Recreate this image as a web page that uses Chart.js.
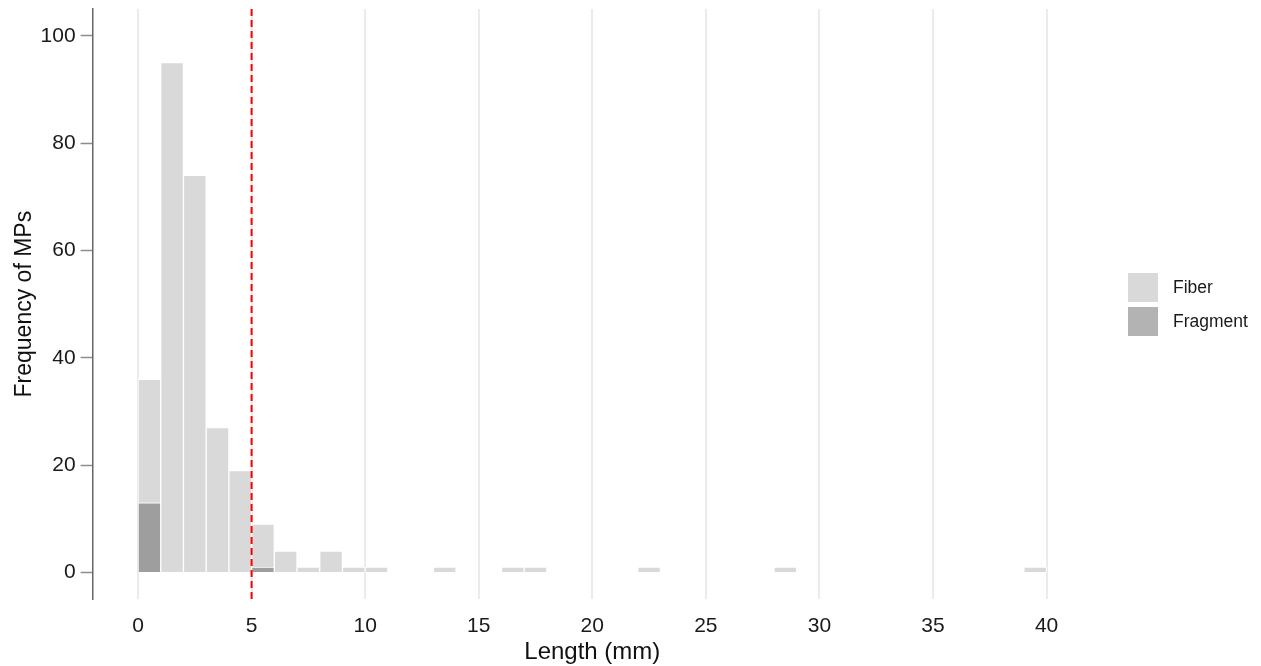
<!DOCTYPE html>
<html>
<head>
<meta charset="utf-8">
<title>Length distribution of MPs</title>
<script src="https://cdn.jsdelivr.net/npm/chart.js@4.4.1/dist/chart.umd.min.js"></script>
<style>
  body { margin: 0; background: #fff; font-family: "Liberation Sans", Arial, sans-serif; }
  .wrap { position: relative; width: 1261px; height: 666px; }
  .legend { position: absolute; left: 1128px; top: 273px; }
  .legend-item { display: flex; align-items: center; height: 29px; margin-bottom: 5px; font-size: 17.5px; color: #1a1a1a; }
  .legend-item .box { width: 30px; height: 29px; margin-right: 15px; }
</style>
</head>
<body>
<div class="wrap">
  <canvas id="chart" width="1261" height="666"></canvas>
  <div class="legend" id="legend"></div>
</div>
<script>
// histogram bins (1 mm wide), counts per bin
const binStarts = [0, 1, 2, 3, 4, 5, 6, 7, 8, 9, 10, 13, 16, 17, 22, 28, 39];
const fiberCounts = [23, 95, 74, 27, 19, 8, 4, 1, 4, 1, 1, 1, 1, 1, 1, 1, 1];
const fragmentCounts = [13, 0, 0, 0, 0, 1, 0, 0, 0, 0, 0, 0, 0, 0, 0, 0, 0];
const binWidth = 1;
const cutoff = 5; // 5 mm limit for microplastics

const xTicks = [0, 5, 10, 15, 20, 25, 30, 35, 40];
const yTicks = [0, 20, 40, 60, 80, 100];

const seriesLabels = ["Fiber", "Fragment"];
const legendColors = ["#d9d9d9", "#b3b3b3"];

const toPoints = (counts) =>
  binStarts.map((start, i) => ({
    x: start + binWidth / 2,
    y: counts[i] > 0 ? counts[i] : null,
  }));

// dashed vertical line at the cutoff
const cutoffLine = {
  id: "cutoffLine",
  afterDatasetsDraw(chart) {
    const { ctx, chartArea, scales } = chart;
    const px = scales.x.getPixelForValue(cutoff);
    ctx.save();
    ctx.strokeStyle = "#ff0000";
    ctx.lineWidth = 2;
    ctx.setLineDash([7, 4]);
    ctx.beginPath();
    ctx.moveTo(px, chartArea.top);
    ctx.lineTo(px, chartArea.bottom);
    ctx.stroke();
    ctx.restore();
  },
};

Chart.defaults.font.family = '"Liberation Sans", Arial, sans-serif';

const ctx = document.getElementById("chart").getContext("2d");

new Chart(ctx, {
  type: "bar",
  data: {
    datasets: [
      {
        label: seriesLabels[1],
        data: toPoints(fragmentCounts),
        backgroundColor: "#9e9e9e",
        borderColor: "#ffffff",
        borderWidth: 1,
        order: 2,
      },
      {
        label: seriesLabels[0],
        data: toPoints(fiberCounts),
        backgroundColor: "#d9d9d9",
        borderColor: "#ffffff",
        borderWidth: 1,
        order: 3,
      },
    ],
  },
  options: {
    responsive: false,
    animation: false,
    barPercentage: 1,
    categoryPercentage: 1,
    layout: { padding: { left: 0, right: 169, top: 9, bottom: 0 } },
    plugins: {
      legend: { display: false },
      tooltip: { enabled: false },
    },
    scales: {
      x: {
        type: "linear",
        stacked: true,
        offset: false,
        min: -2,
        max: 42,
        afterBuildTicks: (scale) => {
          scale.ticks = xTicks.map((v) => ({ value: v }));
        },
        afterFit: (scale) => {
          scale.height = 66.7;
        },
        grid: { offset: false, color: "#ebebeb", lineWidth: 2, drawTicks: false },
        border: { display: false },
        ticks: { padding: 14, color: "#1a1a1a", maxRotation: 0, font: { size: 21 } },
        title: {
          display: true,
          text: "Length (mm)",
          color: "#111",
          font: { size: 24 },
          padding: { top: 0, bottom: -1 },
        },
      },
      y: {
        stacked: true,
        min: -5,
        max: 105,
        afterBuildTicks: (scale) => {
          scale.ticks = yTicks.map((v) => ({ value: v }));
        },
        afterFit: (scale) => {
          scale.width = 92.6;
          scale.paddingTop = 0;
          scale.paddingBottom = 0;
        },
        grid: {
          drawOnChartArea: false,
          drawTicks: true,
          tickLength: 12,
          color: "#8c8c8c",
          tickColor: "#8c8c8c",
          tickWidth: 1.5,
        },
        border: { display: true, color: "#666", width: 1.5 },
        ticks: { padding: 5, color: "#1a1a1a", font: { size: 21 } },
        title: {
          display: true,
          text: "Frequency of MPs",
          color: "#111",
          font: { size: 23 },
          padding: { top: 11, bottom: 0 },
        },
      },
    },
  },
  plugins: [cutoffLine],
});

// legend on the right, same order as the reference
const legendEl = document.getElementById("legend");
seriesLabels.forEach((label, i) => {
  const item = document.createElement("div");
  item.className = "legend-item";
  const box = document.createElement("span");
  box.className = "box";
  box.style.background = legendColors[i];
  const text = document.createElement("span");
  text.textContent = label;
  item.appendChild(box);
  item.appendChild(text);
  legendEl.appendChild(item);
});
</script>
</body>
</html>
